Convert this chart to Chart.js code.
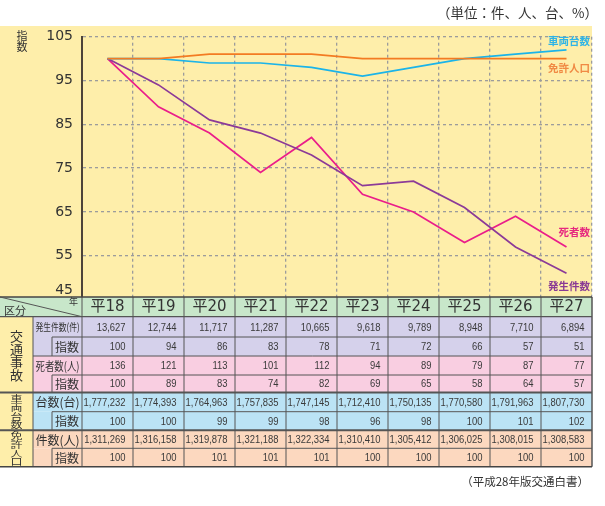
<!DOCTYPE html>
<html><head><meta charset="utf-8">
<script src="https://cdn.jsdelivr.net/npm/chart.js@4/dist/chart.umd.min.js"></script>
<style>html,body{margin:0;padding:0;background:#fff}#wrap{width:605px;height:506px;position:relative}</style>
</head><body><div id="wrap"><canvas id="c"></canvas></div>
<script>
// ---- data ----
const years = ['平18','平19','平20','平21','平22','平23','平24','平25','平26','平27'];
const seriesNames = ['免許人口','車両台数','発生件数','死者数'];
const accidents = [13627,12744,11717,11287,10665,9618,9789,8948,7710,6894];
const accIdx = [100,94,86,83,78,71,72,66,57,51];
const deaths = [136,121,113,101,112,94,89,79,87,77];
const deathIdx = [100,89,83,74,82,69,65,58,64,57];
const vehicles = [1777232,1774393,1764963,1757835,1747145,1712410,1750135,1770580,1791963,1807730];
const vehIdx = [100,100,99,99,98,96,98,100,101,102];
const licenses = [1311269,1316158,1319878,1321188,1322334,1310410,1305412,1306025,1308015,1308583];
const licIdx = [100,100,101,101,101,100,100,100,100,100];
const yTicks = [45,55,65,75,85,95,105];

// ---- styles ----
const JP = '"Noto Sans CJK JP", sans-serif';
const NUM = '"DejaVu Sans", "Noto Sans CJK JP", sans-serif';
const NARROW = '"Liberation Sans", Arial, sans-serif';
const COL = { yellow:'#FEEEAA', green:'#C8E7CA', lav:'#D5D1EB', pink:'#F9CEE1', blue:'#BBE3F5', peach:'#FCD8BF', text:'#333', line:'#555' };
const lineColors = ['#F37B22','#1BB4E9','#8C3A98','#EA1E8A'];
const labelColors = ['#F08A44','#2FB4E6','#8A3A95','#E6287F'];
const labelOffsets = [9,-9,13,-15];
const rowsY = [297, 316.7, 337, 356, 375, 392.5, 411.7, 430.3, 448.3, 466.7];

const tableRows = [
  {label:'発生件数(件)', vals:accidents, color:'lav', size:10.5},
  {label:'指数', vals:accIdx, color:'lav', sub:true},
  {label:'死者数(人)', vals:deaths, color:'pink', size:12},
  {label:'指数', vals:deathIdx, color:'pink', sub:true},
  {label:'台数(台)', vals:vehicles, color:'blue', size:12.5},
  {label:'指数', vals:vehIdx, color:'blue', sub:true},
  {label:'件数(人)', vals:licenses, color:'peach', size:12.5},
  {label:'指数', vals:licIdx, color:'peach', sub:true}
];
const groups = [
  {name:'交通事故', r0:1, r1:5, size:13, step:13, sy:1},
  {name:'車両台数', r0:5, r1:7, size:12, step:8.8, sy:0.72},
  {name:'免許人口', r0:7, r1:9, size:12, step:8.8, sy:0.72}
];

const deco = {
  id:'deco',
  beforeDraw(chart){
    const ctx = chart.ctx, ca = chart.chartArea;
    ctx.save();
    ctx.fillStyle = '#fff'; ctx.fillRect(0,0,chart.width,chart.height);
    ctx.fillStyle = COL.yellow; ctx.fillRect(0,26,ca.right,ca.bottom-26);
    ctx.fillStyle = COL.text; ctx.textBaseline='middle';
    ctx.font = '13.5px '+JP; ctx.textAlign='right';
    ctx.fillText('（単位：件、人、台、%）',598,13);
    ctx.font = '11px '+JP; ctx.textAlign='center';
    ctx.fillText('指',22,36); ctx.fillText('数',22,47);
    ctx.restore();
  },
  afterDraw(chart){
    const ctx = chart.ctx, xs = chart.scales.x, ys = chart.scales.y, ca = chart.chartArea;
    ctx.save();
    // bottom tick label (45) lifted above the table
    ctx.fillStyle = COL.text; ctx.font = '14px '+NUM; ctx.textAlign='right'; ctx.textBaseline='middle';
    ctx.fillText(String(yTicks[0]), ys.right-9, ys.getPixelForValue(yTicks[0])-9);
    // series end labels
    ctx.font = 'bold 10.5px '+JP; ctx.textAlign='right';
    chart.data.datasets.forEach((ds,i)=>{
      const meta = chart.getDatasetMeta(i);
      const p = meta.data[meta.data.length-1];
      ctx.fillStyle = labelColors[i];
      ctx.fillText(ds.label, ca.right-2, p.y+labelOffsets[i]);
    });
    // ---- table ----
    const n = years.length;
    const half = (xs.getPixelForValue(1)-xs.getPixelForValue(0))/2;
    const bounds = [];
    for(let i=0;i<n;i++) bounds.push(xs.getPixelForValue(i)-half);
    bounds.push(xs.getPixelForValue(n-1)+half);
    const R = bounds[n], L0 = bounds[0];
    const y = rowsY;
    ctx.fillStyle = COL.green; ctx.fillRect(0,y[0],R,y[1]-y[0]);
    tableRows.forEach((r,k)=>{ ctx.fillStyle = COL[r.color]; ctx.fillRect(33,y[k+1],R-33,y[k+2]-y[k+1]); });
    ctx.fillStyle = COL.yellow; ctx.fillRect(0,y[1],33,y[9]-y[1]);
    ctx.fillStyle = COL.text; ctx.textBaseline='middle';
    ctx.font = '15px '+NUM; ctx.textAlign='center';
    years.forEach((t,i)=> ctx.fillText(t, xs.getPixelForValue(i), (y[0]+y[1])/2+0.5));
    ctx.font = '11px '+JP; ctx.textAlign='left'; ctx.fillText('区分',4,y[1]-6);
    ctx.font = '9px '+JP; ctx.textAlign='right'; ctx.fillText('年',L0-4,y[0]+5);
    tableRows.forEach((r,k)=>{
      const cy = (y[k+1]+y[k+2])/2+0.5;
      ctx.fillStyle = COL.text; ctx.textAlign='center';
      if(r.sub){ ctx.font='12px '+JP; ctx.fillText(r.label,(52+L0)/2,cy,27); }
      else { ctx.font=r.size+'px '+JP; ctx.fillText(r.label,(33+L0)/2,cy,44); }
      ctx.fillStyle = '#3a3a3a'; ctx.font='11.5px '+NARROW; ctx.textAlign='right';
      r.vals.forEach((v,i)=>{
        ctx.save(); ctx.translate(bounds[i+1]-7.5, cy); ctx.scale(0.82,1);
        ctx.fillText(v.toLocaleString('en-US'),0,0); ctx.restore();
      });
    });
    groups.forEach(g=>{
      const cx = 16.5, cyMid = (y[g.r0]+y[g.r1])/2;
      const chars = Array.from(g.name);
      ctx.fillStyle = COL.text; ctx.font = g.size+'px '+JP; ctx.textAlign='center';
      chars.forEach((ch,j)=>{
        const cy = cyMid + (j-(chars.length-1)/2)*g.step + 0.5;
        ctx.save(); ctx.translate(cx,cy); ctx.scale(1,g.sy); ctx.fillText(ch,0,0); ctx.restore();
      });
    });
    ctx.strokeStyle = COL.line;
    const hline=(yy,x0,w)=>{ctx.lineWidth=w;ctx.beginPath();ctx.moveTo(x0,yy);ctx.lineTo(R,yy);ctx.stroke();};
    const vline=(xx,y0,y1,w)=>{ctx.lineWidth=w||1;ctx.beginPath();ctx.moveTo(xx,y0);ctx.lineTo(xx,y1);ctx.stroke();};
    hline(y[1],0,1.2); hline(y[2],52,1); hline(y[3],33,1); hline(y[4],52,1);
    hline(y[5],0,2); hline(y[6],52,1); hline(y[7],0,2); hline(y[8],52,1);
    vline(33,y[1],y[9]);
    [[2,3],[4,5],[6,7],[8,9]].forEach(([a,b])=>vline(52,y[a],y[b]));
    bounds.forEach((bx,i)=>vline(bx,y[0],y[9],i===n?1.5:1));
    ctx.strokeStyle='#444';
    hline(y[0],0,1.5); hline(y[9],0,1.5);
    ctx.strokeStyle = COL.line; ctx.lineWidth=1;
    ctx.beginPath(); ctx.moveTo(0,y[0]); ctx.lineTo(L0,y[1]); ctx.stroke();
    ctx.fillStyle = COL.text; ctx.font='11.5px '+JP; ctx.textAlign='right'; ctx.textBaseline='middle';
    ctx.fillText('（平成28年版交通白書）',589,482);
    ctx.restore();
  }
};

const dataSets = [licIdx, vehIdx, accIdx, deathIdx];
new Chart(document.getElementById('c'), {
  type:'line',
  data:{
    labels: years,
    datasets: dataSets.map((d,i)=>({label:seriesNames[i], data:d, borderColor:lineColors[i], backgroundColor:lineColors[i], borderWidth:1.7, pointRadius:0, tension:0, fill:false}))
  },
  options:{
    responsive:true, maintainAspectRatio:false, animation:false,
    layout:{padding:{top:36.7, right:13, bottom:206.5, left:0}},
    plugins:{legend:{display:false}, tooltip:{enabled:false}},
    scales:{
      x:{type:'category', offset:true,
         grid:{offset:true, color:'#9c9c9c', lineWidth:1.3, drawTicks:false},
         border:{display:false, dash:[3,3]},
         ticks:{display:false},
         afterFit(s){ s.height = 0; }},
      y:{min:45, max:105,
         afterBuildTicks(s){ s.ticks = yTicks.map(v=>({value:v})); },
         grid:{color:'#9c9c9c', lineWidth:1.3, drawTicks:false},
         border:{display:true, color:'#4d4339', width:2, dash:[3,3]},
         ticks:{padding:9, color:'#333', font:{family:NUM, size:14}, callback:(v)=> v===yTicks[0] ? '' : String(v)},
         afterFit(s){ s.width = 82; }}
    }
  },
  plugins:[deco]
});
</script>
</body></html>
